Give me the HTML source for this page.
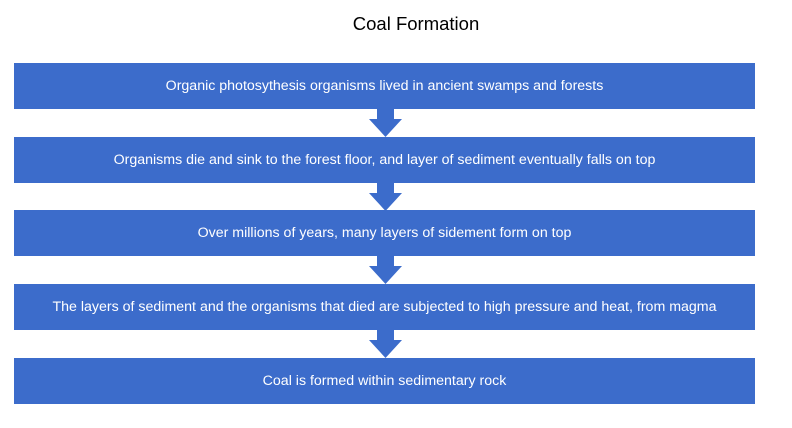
<!DOCTYPE html>
<html><head><meta charset="utf-8"><style>
body{margin:0;width:792px;height:428px;background:#fff;position:relative;font-family:"Liberation Sans",sans-serif;overflow:hidden}
.t{position:absolute;left:0;width:832px;top:13px;text-align:center;font-size:18.5px;color:#000}
.b{position:absolute;left:14px;width:741px;height:46px;background:#3C6CCB;color:#fff;font-size:14.2px;display:flex;align-items:center;justify-content:center;white-space:nowrap}
.a{position:absolute;left:369px;width:33px;height:28px}
</style></head><body>
<div class="t">Coal Formation</div>
<div class="b" style="top:63px">Organic photosythesis organisms lived in ancient swamps and forests</div>
<svg class="a" style="top:109px" viewBox="0 0 33 28"><polygon points="8,0 25,0 25,10 33,10 16.5,28 0,10 8,10" fill="#3C6CCB"/></svg>
<div class="b" style="top:137px">Organisms die and sink to the forest floor, and layer of sediment eventually falls on top</div>
<svg class="a" style="top:183px" viewBox="0 0 33 28"><polygon points="8,0 25,0 25,10 33,10 16.5,28 0,10 8,10" fill="#3C6CCB"/></svg>
<div class="b" style="top:210px">Over millions of years, many layers of sidement form on top</div>
<svg class="a" style="top:256px" viewBox="0 0 33 28"><polygon points="8,0 25,0 25,10 33,10 16.5,28 0,10 8,10" fill="#3C6CCB"/></svg>
<div class="b" style="top:284px">The layers of sediment and the organisms that died are subjected to high pressure and heat, from magma</div>
<svg class="a" style="top:330px" viewBox="0 0 33 28"><polygon points="8,0 25,0 25,10 33,10 16.5,28 0,10 8,10" fill="#3C6CCB"/></svg>
<div class="b" style="top:358px">Coal is formed within sedimentary rock</div>
</body></html>
